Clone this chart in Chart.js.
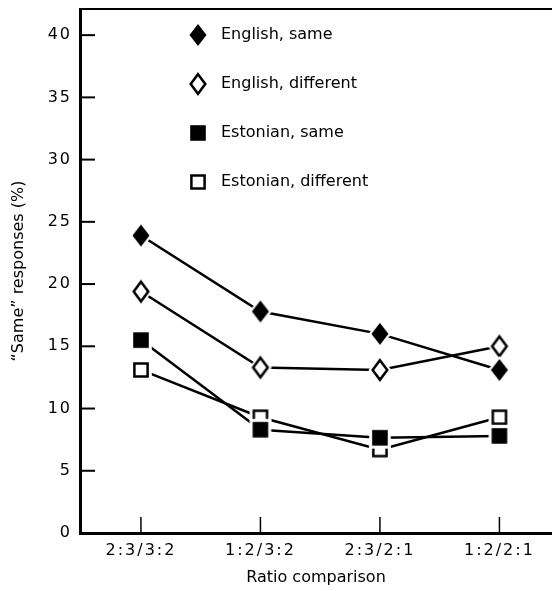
<!DOCTYPE html>
<html>
<head>
<meta charset="utf-8">
<script src="https://cdn.jsdelivr.net/npm/chart.js@4"></script>
<style>
    body { margin: 0; background: #fff; }
</style>
</head>
<body>
<canvas id="chart" width="552" height="591"></canvas>
<script>
const categories = ["2:3/3:2", "1:2/3:2", "2:3/2:1", "1:2/2:1"];
const seriesNames = ["English, same", "English, different", "Estonian, same", "Estonian, different"];
const englishSame = [23.9, 17.8, 16.0, 13.1];
const englishDifferent = [19.4, 13.3, 13.1, 15.0];
const estonianSame = [15.5, 8.3, 7.65, 7.8];
const estonianDifferent = [13.1, 9.3, 6.7, 9.3];
const yTicks = [0, 5, 10, 15, 20, 25, 30, 35, 40];

const FONT = "'DejaVu Sans', sans-serif";

// marker glyphs with a white halo so the lines stop short of them
function makeMarker(shape, filled) {
    const c = document.createElement("canvas");
    c.width = 32;
    c.height = 32;
    const g = c.getContext("2d");
    const m = 16;

    function path(grow) {
        g.beginPath();
        if (shape == "diamond") {
            g.moveTo(m, m - 11 - grow);
            g.lineTo(m + 8.5 + grow, m);
            g.lineTo(m, m + 11 + grow);
            g.lineTo(m - 8.5 - grow, m);
            g.closePath();
        } else {
            g.rect(m - 7.8 - grow, m - 7.8 - grow, 15.6 + 2 * grow, 15.6 + 2 * grow);
        }
    }

    g.fillStyle = "#fff";
    path(3);
    g.fill();

    if (filled) {
        g.fillStyle = "#000";
        path(0);
        g.fill();
    } else {
        g.fillStyle = "#fff";
        g.strokeStyle = "#000";
        g.lineWidth = 2.5;
        g.lineJoin = "miter";
        path(-1.2);
        g.fill();
        g.stroke();
    }
    return c;
}

const markers = [
    makeMarker("diamond", true),
    makeMarker("diamond", false),
    makeMarker("square", true),
    makeMarker("square", false)
];

function series(values, i) {
    return {
        label: seriesNames[i],
        data: values.map((v, k) => ({x: k, y: v})),
        borderColor: "#000",
        borderWidth: 2.5,
        pointStyle: markers[i],
        pointRadius: 10,
        tension: 0
    };
}

const framePlugin = {
    id: "frame",
    beforeDraw(chart) {
        chart.ctx.letterSpacing = "0px";
    },
    afterDatasetsDraw(chart) {
        // tick labels (z = 1) are drawn after this, spaced out like the original
        chart.ctx.letterSpacing = "2px";
    },
    afterDraw(chart) {
        const {ctx, chartArea, scales} = chart;
        ctx.save();
        ctx.letterSpacing = "0px";
        ctx.strokeStyle = "#000";

        ctx.lineWidth = 2;
        ctx.beginPath();
        ctx.moveTo(chartArea.left, chartArea.top);
        ctx.lineTo(chartArea.right, chartArea.top);
        ctx.stroke();

        // inward tick marks
        for (const v of yTicks) {
            let y = scales.y.getPixelForValue(v);
            ctx.beginPath();
            ctx.moveTo(chartArea.left, y);
            ctx.lineTo(chartArea.left + 15, y);
            ctx.stroke();
        }
        ctx.lineWidth = 1.5;
        for (let i = 0; i < categories.length; i++) {
            let x = scales.x.getPixelForValue(i);
            ctx.beginPath();
            ctx.moveTo(x, chartArea.bottom);
            ctx.lineTo(x, chartArea.bottom - 16);
            ctx.stroke();
        }

        // legend inside the plot
        ctx.font = "16px " + FONT;
        ctx.fillStyle = "#000";
        ctx.textBaseline = "middle";
        ctx.textAlign = "left";
        for (let i = 0; i < seriesNames.length; i++) {
            let y = chartArea.top + 26 + i * 49;
            let img = markers[i];
            ctx.drawImage(img, chartArea.left + 118 - img.width / 2, y - img.height / 2);
            ctx.fillText(seriesNames[i], chartArea.left + 141, y);
        }
        ctx.restore();
    }
};

new Chart(document.getElementById("chart"), {
    type: "line",
    data: {
        datasets: [
            series(englishSame, 0),
            series(englishDifferent, 1),
            series(estonianSame, 2),
            series(estonianDifferent, 3)
        ]
    },
    options: {
        responsive: false,
        animation: false,
        layout: {autoPadding: false, padding: {top: 9, right: 0, bottom: 0, left: 0}},
        plugins: {
            legend: {display: false},
            tooltip: {enabled: false}
        },
        scales: {
            x: {
                type: "linear",
                min: -0.51,
                max: 3.44,
                grid: {display: false, drawTicks: false},
                border: {color: "#000", width: 3},
                afterBuildTicks: (s) => { s.ticks = categories.map((c, i) => ({value: i})); },
                afterFit: (s) => {
                    s.height = 58;
                    s.paddingLeft = 0;
                    s.paddingRight = 0;
                },
                ticks: {
                    z: 1,
                    color: "#000",
                    font: {family: FONT, size: 16},
                    padding: 8,
                    maxRotation: 0,
                    autoSkip: false,
                    callback: (v) => categories[v]
                },
                title: {
                    display: true,
                    text: "Ratio comparison",
                    color: "#000",
                    font: {family: FONT, size: 16},
                    padding: {top: 0, bottom: 4}
                }
            },
            y: {
                min: 0,
                max: 42.1,
                grid: {display: false, drawTicks: false},
                border: {color: "#000", width: 3},
                afterBuildTicks: (s) => { s.ticks = yTicks.map(v => ({value: v})); },
                afterFit: (s) => {
                    s.width = 80;
                    s.paddingTop = 0;
                    s.paddingBottom = 0;
                },
                ticks: {
                    z: 1,
                    color: "#000",
                    font: {family: FONT, size: 16},
                    padding: 8
                },
                title: {
                    display: true,
                    text: "\u201CSame\u201D responses (%)",
                    color: "#000",
                    font: {family: FONT, size: 16},
                    padding: {top: 9, bottom: 0}
                }
            }
        }
    },
    plugins: [framePlugin]
});
</script>
</body>
</html>
